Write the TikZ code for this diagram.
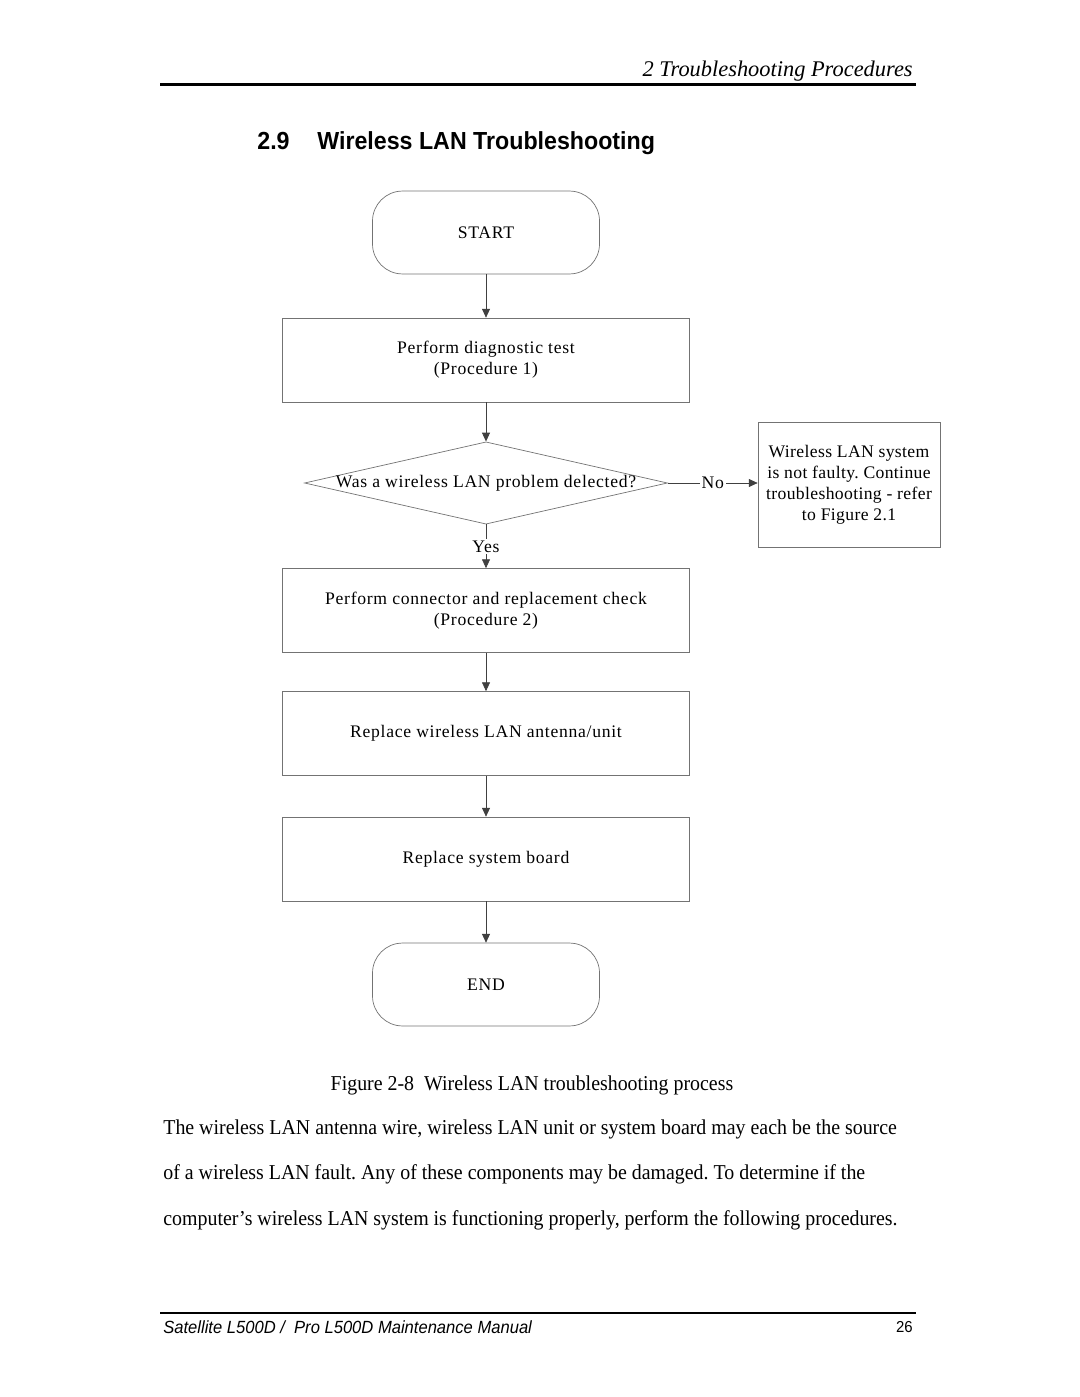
\documentclass[tikz,border=0pt]{standalone}
\usepackage{fontspec}
\setmainfont{Liberation Serif}[FakeStretch=0.94]
\newfontfamily\headserif{Liberation Serif}
\newfontfamily\flowfont[LetterSpace=4]{Liberation Serif}
\newfontfamily\headsans[FakeStretch=0.94]{Liberation Sans}
\usetikzlibrary{arrows.meta,shapes.geometric}
\tikzset{
  box/.style={draw=black!55, minimum width=230.8pt, minimum height=47.6pt, align=center,
    font=\flowfont\fontsize{10}{12}\selectfont},
  term/.style={box, rounded corners=17pt, minimum width=128.7pt, minimum height=47pt},
  decide/.style={box, diamond, aspect=4.4, inner xsep=-2.5pt, inner ysep=0pt, minimum width=205.8pt, minimum height=46.5pt},
  link/.style={draw=black!75, -{Triangle[length=5pt,width=4.5pt]}},
  tag/.style={fill=white, inner sep=1pt, font=\flowfont\fontsize{10}{12}\selectfont},
}
\frenchspacing
\begin{document}
\begin{tikzpicture}[x=0.567pt,y=-0.567pt, line width=0.4pt]
\useasboundingbox (0,0) rectangle (1080,1397);
% page head
\node[anchor=base east, inner sep=0pt, font=\headserif\itshape\fontsize{12.7}{14}\selectfont] (chap) at (913,77) {2 Troubleshooting Procedures};
\draw[line width=1.7pt] (160,85) -- (916,85);
\node[anchor=base west, inner sep=0pt, font=\headsans\bfseries\fontsize{14}{16}\selectfont] (secnum) at (257,150) {2.9};
\node[anchor=base west, inner sep=0pt, font=\headsans\bfseries\fontsize{14}{16}\selectfont] (sectitle) at (317,150) {Wireless LAN Troubleshooting};
% flow
\node[term] (start) at (486,232.5) {START};
\node[box] (diag) at (486,360) {Perform diagnostic test\\(Procedure 1)};
\node[decide] (wlan) at (486,483) {Was a wireless LAN problem delected?};
\node[box, minimum width=103.2pt, minimum height=70.9pt, inner xsep=0pt, font=\flowfont\fontsize{10}{12}\addfontfeature{LetterSpace=2}] (ok) at (849,485)
  {Wireless LAN system\\is not faulty. Continue\\troubleshooting - refer\\to Figure 2.1};
\node[box] (conn) at (486,610.5) {Perform connector and replacement check\\(Procedure 2)};
\node[box] (ant) at (486,733.5) {Replace wireless LAN antenna/unit};
\node[box] (board) at (486,859) {Replace system board};
\node[term] (stop) at (486,984.5) {END};
\draw[link] (start) -- (diag);
\draw[link] (diag) -- (wlan);
\draw[link] (wlan.east) -- node[tag] (no) {No} (ok.west |- wlan.east);
\draw[link] (wlan) -- node[tag] (yes) {Yes} (conn);
\draw[link] (conn) -- (ant);
\draw[link] (ant) -- (board);
\draw[link] (board) -- (stop);
% caption and text
\node[font=\fontsize{12}{14}\selectfont] (cap) at (532,1085) {Figure 2-8\ \ Wireless LAN troubleshooting process};
\node[anchor=north west, align=left, inner sep=0pt, font=\fontsize{12}{25.8}\selectfont] (body) at (163,1119)
  {The wireless LAN antenna wire, wireless LAN unit or system board may each be the source\\
   of a wireless LAN fault. Any of these components may be damaged. To determine if the\\
   computer’s wireless LAN system is functioning properly, perform the following procedures.};
% page foot
\draw[line width=1.1pt] (160,1313) -- (916,1313);
\node[anchor=west, inner sep=0pt, font=\headsans\itshape\fontsize{10}{12}\selectfont] (foot) at (163,1327) {Satellite L500D /\ \ Pro L500D Maintenance Manual};
\node[anchor=east, inner sep=0pt, font=\headsans\fontsize{9}{11}\selectfont] (page) at (913,1327) {26};
\end{tikzpicture}
\end{document}
